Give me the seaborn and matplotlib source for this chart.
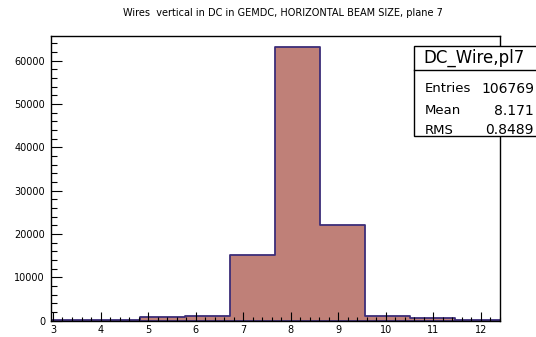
import matplotlib
matplotlib.use("Agg")
import matplotlib.pyplot as plt
from matplotlib.patches import Rectangle
from matplotlib.lines import Line2D
from matplotlib.ticker import MultipleLocator
import seaborn as sns
import numpy as np

# ---- data ----
bin_edges = [2.95, 3.895, 4.84, 5.785, 6.73, 7.675, 8.62, 9.565, 10.51, 11.455, 12.4]
bin_counts = [200, 200, 750, 1050, 15150, 63100, 22100, 1000, 700, 200]
title_text = "Wires  vertical in DC in GEMDC, HORIZONTAL BEAM SIZE, plane 7"
stats_name = "DC_Wire,pl7"
stats_labels = ["Entries", "Mean", "RMS"]
stats_values = ["106769", "8.171", "0.8489"]
x_ticks = [3, 4, 5, 6, 7, 8, 9, 10, 11, 12]
y_ticks = [0, 10000, 20000, 30000, 40000, 50000, 60000]

centers = [(a + b) / 2 for a, b in zip(bin_edges[:-1], bin_edges[1:])]

plt.rcParams["font.family"] = ["DejaVu Sans"]

W, H = 536, 337
fig = plt.figure(figsize=(W / 100, H / 100), dpi=100)
fig.patch.set_facecolor("white")

left_px, right_px, top_px, bot_px = 50.6, 500.0, 36.0, 320.7
ax = fig.add_axes([left_px / W, 1 - bot_px / H, (right_px - left_px) / W, (bot_px - top_px) / H])

sns.histplot(x=centers, weights=bin_counts, bins=bin_edges, element="step", fill=True,
             facecolor="#bf8078", edgecolor="#3c2d78", alpha=1, linewidth=1.3, ax=ax)

ax.set_xlim(2.95, 12.4)
ax.set_ylim(0, 65700)
ax.set_xlabel("")
ax.set_ylabel("")
ax.set_xticks(x_ticks)
ax.set_xticklabels([str(t) for t in x_ticks])
ax.set_yticks(y_ticks)
ax.set_yticklabels([str(t) for t in y_ticks])
ax.xaxis.set_minor_locator(MultipleLocator(0.2))
ax.yaxis.set_minor_locator(MultipleLocator(2000))
ax.tick_params(axis="both", which="both", direction="in", colors="black", labelsize=7)
ax.tick_params(axis="x", which="major", length=6.5, width=0.8, pad=3)
ax.tick_params(axis="x", which="minor", length=3, width=0.8)
ax.tick_params(axis="y", which="major", length=8, width=0.8, pad=4)
ax.tick_params(axis="y", which="minor", length=4, width=0.8)
for s in ax.spines.values():
    s.set_linewidth(1.0)
    s.set_color("black")
ax.set_facecolor("white")

fig.text(283 / W, 1 - 13 / H, title_text, ha="center", va="center", fontsize=7)

# stats box
bx0, bx1, by_top, by_bot, by_div = 414, 600, 46, 136, 70
fig.add_artist(Rectangle((bx0 / W, 1 - by_bot / H), (bx1 - bx0) / W, (by_bot - by_top) / H,
                         transform=fig.transFigure, facecolor="white", edgecolor="black",
                         linewidth=1.0, zorder=5))
fig.add_artist(Line2D([bx0 / W, bx1 / W], [1 - by_div / H, 1 - by_div / H],
                      transform=fig.transFigure, color="black", linewidth=1.0, zorder=6))
fig.text(423 / W, 1 - 58 / H, stats_name, ha="left", va="center", fontsize=12, zorder=7)
row_y = [89, 111, 130]
for lab, val, yy in zip(stats_labels, stats_values, row_y):
    fig.text(425 / W, 1 - yy / H, lab, ha="left", va="center", fontsize=9.5, zorder=7)
    fig.text(534 / W, 1 - yy / H, val, ha="right", va="center", fontsize=10, zorder=7)

fig.savefig("out.png", dpi=100)
